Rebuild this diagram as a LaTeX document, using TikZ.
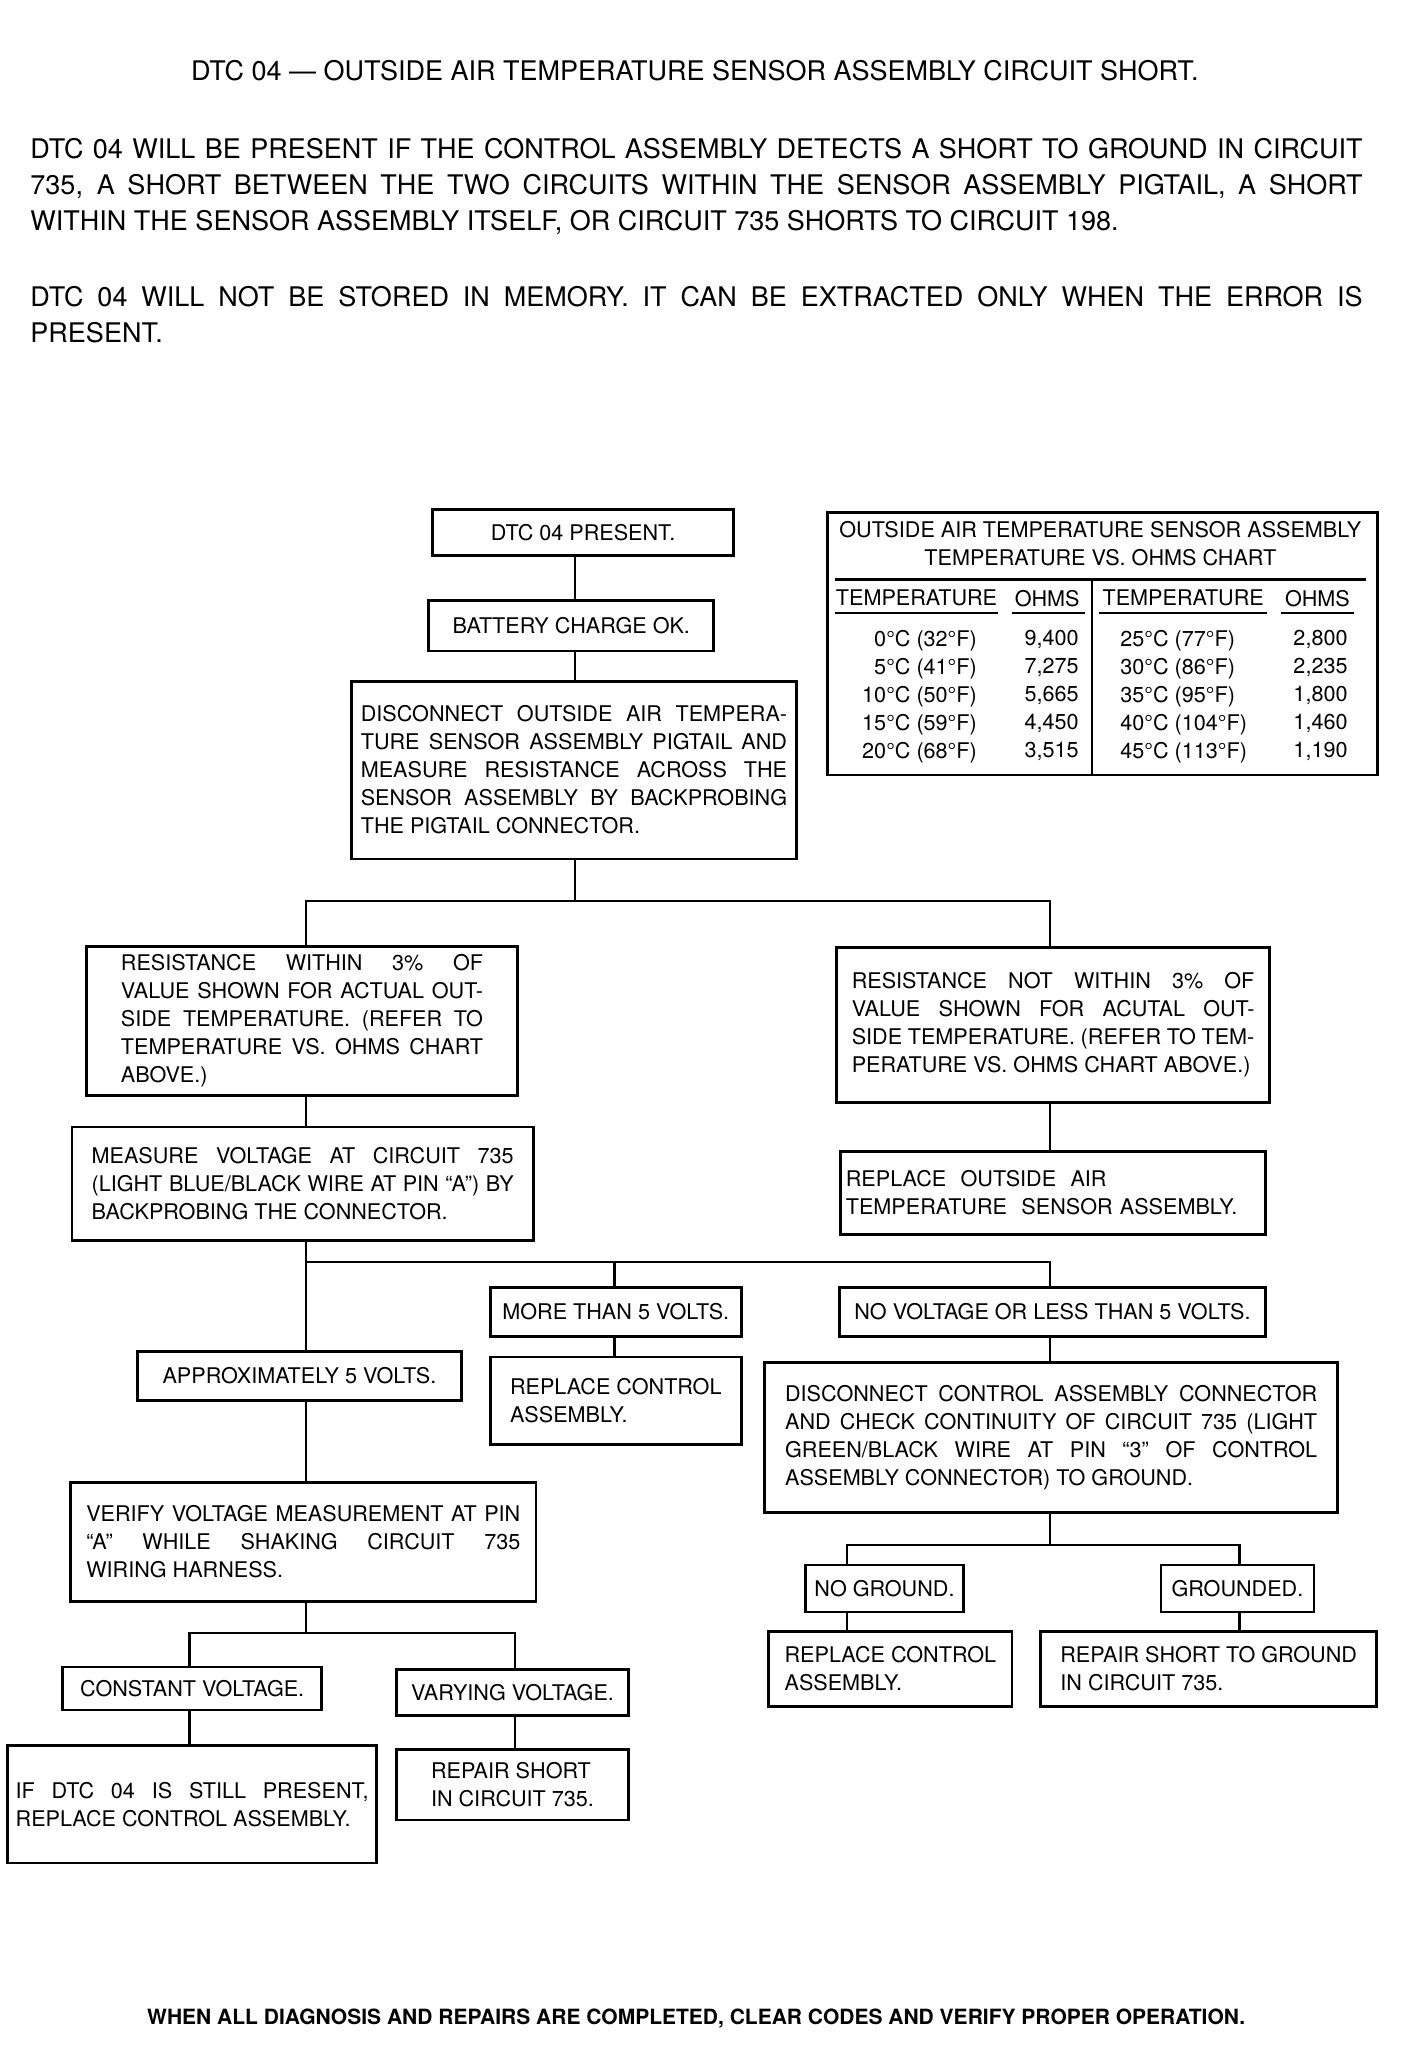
\documentclass[tikz,border=0pt]{standalone}
\usepackage{fontspec}
\setmainfont{TeX Gyre Heros}
\newcommand{\spx}{0.6536pt}
\newcommand{\boxfont}{\fontsize{10.8}{14}\selectfont}
\newcommand{\headfont}{\fontsize{13.5}{18}\selectfont}

\begin{document}
\begin{tikzpicture}[x=0.6536pt,y=-0.6536pt,
    box/.style 2 args={draw,line width=1.4pt,inner sep=0pt,font=\boxfont,
        minimum width=#1*\spx,minimum height=#2*\spx},
    link/.style={line width=1.1pt}]
    \useasboundingbox[fill=white] (0,0) rectangle (1077,1568);
    % heading and notes
    \node[font=\headfont] (title) at (531.5,54) {DTC 04 --- OUTSIDE AIR TEMPERATURE SENSOR ASSEMBLY CIRCUIT SHORT.};
    \node[font=\headfont,anchor=north west,inner sep=0pt,text width=666pt,align=justify] (intro) at (23,105.6)
        {DTC 04 WILL BE PRESENT IF THE CONTROL ASSEMBLY DETECTS A SHORT TO GROUND IN CIRCUIT\linebreak
         735, A SHORT BETWEEN THE TWO CIRCUITS WITHIN THE SENSOR ASSEMBLY PIGTAIL, A SHORT\linebreak
         WITHIN THE SENSOR ASSEMBLY ITSELF, OR CIRCUIT 735 SHORTS TO CIRCUIT 198.};
    \node[font=\headfont,anchor=north west,inner sep=0pt,text width=666pt,align=justify] (memo) at (23,218.6)
        {DTC 04 WILL NOT BE STORED IN MEMORY. IT CAN BE EXTRACTED ONLY WHEN THE ERROR IS\linebreak
         PRESENT.};

    % temperature vs. ohms chart
    \node[box={421}{201}] (chart) at (843.3,492.3) {};
    \node[font=\boxfont,align=center,inner sep=0pt] (charttitle) at (841.6,415.6)
        {OUTSIDE AIR TEMPERATURE SENSOR ASSEMBLY\\TEMPERATURE VS. OHMS CHART};
    \draw[link] (638.7,443.2) -- (1045,443.2);
    \draw[link] (835.3,443.2) -- (835.3,592);
    \node[font=\boxfont,inner sep=0pt] (hdtempa) at (701,457.6) {TEMPERATURE};
    \node[font=\boxfont,inner sep=0pt] (hdohmsa) at (801,457.6) {OHMS};
    \node[font=\boxfont,inner sep=0pt] (hdtempb) at (905,457.6) {TEMPERATURE};
    \node[font=\boxfont,inner sep=0pt] (hdohmsb) at (1007.7,457.6) {OHMS};
    \draw[link] (638.7,468.7) -- (763,468.7);
    \draw[link] (774,468.7) -- (830,468.7);
    \draw[link] (840.7,468.7) -- (969,468.7);
    \draw[link] (979.7,468.7) -- (1036,468.7);
    \node[font=\boxfont,align=right,anchor=north east,inner sep=0pt] (tempa) at (747.4,482)
        {0°C (32°F)\\5°C (41°F)\\10°C (50°F)\\15°C (59°F)\\20°C (68°F)};
    \node[font=\boxfont,align=right,anchor=north east,inner sep=0pt] (ohmsa) at (825.4,482)
        {9,400\\7,275\\5,665\\4,450\\3,515};
    \node[font=\boxfont,align=left,anchor=north west,inner sep=0pt] (tempb) at (856.7,482)
        {25°C (77°F)\\30°C (86°F)\\35°C (95°F)\\40°C (104°F)\\45°C (113°F)};
    \node[font=\boxfont,align=right,anchor=north east,inner sep=0pt] (ohmsb) at (1031,482)
        {2,800\\2,235\\1,800\\1,460\\1,190};

    % flow chart
    \node[box={230}{35}] (dtc) at (446,407.5) {DTC 04 PRESENT.};
    \node[box={218}{39}] (bat) at (437,478.5) {BATTERY CHARGE OK.};
    \node[box={340}{136},text width=213.1pt,align=justify] (disc) at (439,589)
        {DISCONNECT OUTSIDE AIR TEMPERA-\linebreak TURE SENSOR ASSEMBLY PIGTAIL AND\linebreak
         MEASURE RESISTANCE ACROSS THE\linebreak SENSOR ASSEMBLY BY BACKPROBING\linebreak
         THE PIGTAIL CONNECTOR.};
    \node[box={330}{114},text width=181pt,align=justify] (resok) at (231,781)
        {RESISTANCE WITHIN 3\% OF\linebreak VALUE SHOWN FOR ACTUAL OUT-\linebreak
         SIDE TEMPERATURE. (REFER TO\linebreak TEMPERATURE VS. OHMS CHART\linebreak ABOVE.)};
    \node[box={331}{118},text width=201.3pt,align=justify] (resnot) at (805.5,784)
        {RESISTANCE NOT WITHIN 3\% OF\linebreak VALUE SHOWN FOR ACUTAL OUT-\linebreak
         SIDE TEMPERATURE. (REFER TO TEM-\linebreak PERATURE VS. OHMS CHART ABOVE.)};
    \node[box={325}{63},text width=207.2pt,align=left] (repoat) at (805.5,912.5)
        {REPLACE\ \ OUTSIDE\ \ AIR\\TEMPERATURE\ \ SENSOR ASSEMBLY.};
    \node[box={353}{87},text width=211pt,align=justify] (measv) at (231.5,905.5)
        {MEASURE VOLTAGE AT CIRCUIT 735\linebreak (LIGHT BLUE/BLACK WIRE AT PIN ``A'') BY\linebreak
         BACKPROBING THE CONNECTOR.};
    \node[box={192}{37}] (more) at (471,1003.5) {MORE THAN 5 VOLTS.};
    \node[box={192}{67},align=left] (repctl) at (471,1071.5) {REPLACE CONTROL\\ASSEMBLY.};
    \node[box={326}{37}] (novolt) at (805,1003.5) {NO VOLTAGE OR LESS THAN 5 VOLTS.};
    \node[box={438}{115},text width=266pt,align=justify] (discctl) at (804,1099.5)
        {DISCONNECT CONTROL ASSEMBLY CONNECTOR\linebreak AND CHECK CONTINUITY OF CIRCUIT 735 (LIGHT\linebreak
         GREEN/BLACK WIRE AT PIN ``3'' OF CONTROL\linebreak ASSEMBLY CONNECTOR) TO GROUND.};
    \node[box={121}{36}] (noground) at (676.5,1215) {NO GROUND.};
    \node[box={117}{36}] (grounded) at (946.5,1215) {GROUNDED.};
    \node[box={186}{57},align=left] (repctlb) at (681,1276.5) {REPLACE CONTROL\\ASSEMBLY.};
    \node[box={257}{57},align=left] (repgnd) at (924.5,1276.5) {REPAIR SHORT TO GROUND\\IN CIRCUIT 735.};
    \node[box={248}{37}] (approx) at (229,1052.5) {APPROXIMATELY 5 VOLTS.};
    \node[box={356}{91},text width=217pt,align=justify] (verify) at (232,1179.5)
        {VERIFY VOLTAGE MEASUREMENT AT PIN\linebreak ``A'' WHILE SHAKING CIRCUIT 735\linebreak
         WIRING HARNESS.};
    \node[box={198}{33}] (constv) at (147,1291.5) {CONSTANT VOLTAGE.};
    \node[box={178}{35}] (varyv) at (392,1294.5) {VARYING VOLTAGE.};
    \node[box={282}{90},text width=176.5pt,align=justify] (ifdtc) at (147,1380)
        {IF DTC 04 IS STILL PRESENT,\linebreak REPLACE CONTROL ASSEMBLY.};
    \node[box={178}{54},align=left] (repshort) at (392,1365) {REPAIR SHORT\\IN CIRCUIT 735.};

    \node[font=\fontsize{10.5}{12}\selectfont\bfseries] (closing) at (532.5,1544)
        {WHEN ALL DIAGNOSIS AND REPAIRS ARE COMPLETED, CLEAR CODES AND VERIFY PROPER OPERATION.};

    % connector columns and branch points
    \coordinate (xa) at (234,0);
    \coordinate (xb) at (440,0);
    \coordinate (xc) at (803,0);
    \coordinate (xd) at (470,0);
    \coordinate (xe) at (648,0);
    \coordinate (xf) at (948,0);
    \coordinate (xg) at (145,0);
    \coordinate (xh) at (394,0);
    \coordinate (j1) at (440,689);
    \coordinate (j2) at (234,965);
    \coordinate (j3) at (803,1182);
    \coordinate (j4) at (234,1249);

    \draw[link] (dtc.south -| xb) -- (bat.north -| xb);
    \draw[link] (bat.south -| xb) -- (disc.north -| xb);
    \draw[link] (disc.south -| xb) -- (j1);
    \draw[link] (resok.north -| xa) |- (j1) -| (resnot.north -| xc);
    \draw[link] (resok.south -| xa) -- (measv.north -| xa);
    \draw[link] (resnot.south -| xc) -- (repoat.north -| xc);
    \draw[link] (measv.south -| xa) -- (approx.north -| xa);
    \draw[link] (j2) -| (novolt.north -| xc);
    \draw[link] (xd |- j2) -- (more.north -| xd);
    \draw[link] (more.south -| xd) -- (repctl.north -| xd);
    \draw[link] (novolt.south -| xc) -- (discctl.north -| xc);
    \draw[link] (discctl.south -| xc) -- (j3);
    \draw[link] (noground.north -| xe) |- (j3) -| (grounded.north -| xf);
    \draw[link] (noground.south -| xe) -- (repctlb.north -| xe);
    \draw[link] (grounded.south -| xf) -- (repgnd.north -| xf);
    \draw[link] (approx.south -| xa) -- (verify.north -| xa);
    \draw[link] (verify.south -| xa) -- (j4);
    \draw[link] (constv.north -| xg) |- (j4) -| (varyv.north -| xh);
    \draw[link] (constv.south -| xg) -- (ifdtc.north -| xg);
    \draw[link] (varyv.south -| xh) -- (repshort.north -| xh);
\end{tikzpicture}
\end{document}
